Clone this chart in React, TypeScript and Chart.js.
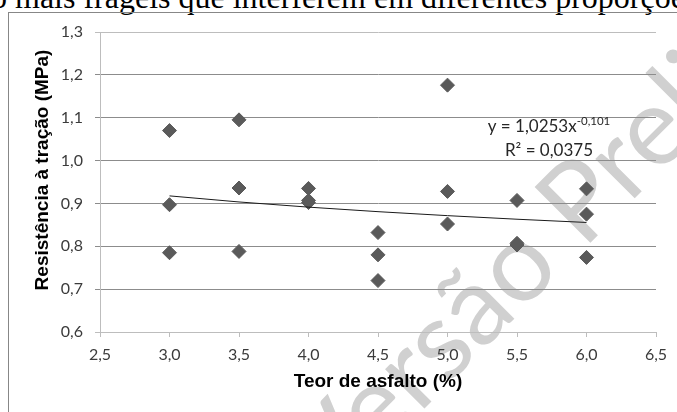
import React, { useEffect, useRef } from "react";
import { Chart, registerables } from "chart.js";

Chart.register(...registerables);

// ---- data ----
const asphaltContent = [3.0, 3.5, 4.0, 4.5, 5.0, 5.5, 6.0];
const strengthSample1 = [1.07, 1.095, 0.935, 0.832, 1.176, 0.907, 0.934];
const strengthSample2 = [0.897, 0.936, 0.907, 0.78, 0.928, 0.807, 0.875];
const strengthSample3 = [0.785, 0.788, 0.902, 0.72, 0.852, 0.803, 0.774];

// power trendline y = a * x^b (as printed on the chart)
const trendA = 1.0253;
const trendB = -0.101;
const trendR2 = 0.0375;

const xMin = 2.5;
const xMax = 6.5;
const xStep = 0.5;
const yMin = 0.6;
const yMax = 1.3;
const yStep = 0.1;

const xTitle = "Teor de asfalto (%)";
const yTitle = "Resistência à tração (MPa)";
const headerText = "o mais frágeis que interferem em diferentes proporções";
const watermarkText = "Versão Preliminar";

const fmt = (v: number, d: number) => v.toFixed(d).replace(".", ",");

export default function App() {
  const canvasRef = useRef<HTMLCanvasElement | null>(null);

  useEffect(() => {
    const canvas = canvasRef.current;
    if (!canvas) return;

    const points: { x: number; y: number }[] = [];
    asphaltContent.forEach((x, i) => {
      points.push({ x, y: strengthSample1[i] });
      points.push({ x, y: strengthSample2[i] });
      points.push({ x, y: strengthSample3[i] });
    });
    const trend = asphaltContent.map((x) => ({ x, y: trendA * Math.pow(x, trendB) }));

    const watermarkPlugin = {
      id: "watermark",
      beforeDraw(chart: any) {
        const ctx = chart.ctx;
        ctx.save();
        ctx.translate(331, 502);
        ctx.rotate(-Math.PI / 4);
        ctx.font = "110px Lato";
        ctx.fillStyle = "#d0d0d0";
        ctx.textBaseline = "alphabetic";
        ctx.textAlign = "left";
        ctx.fillText(watermarkText, 0, 0);
        ctx.restore();
      },
    };

    const labelsPlugin = {
      id: "labels",
      afterDatasetsDraw(chart: any) {
        const ctx = chart.ctx;
        ctx.save();
        // equation
        const main = `y = ${fmt(trendA, 4)}x`;
        const sup = fmt(trendB, 3);
        ctx.fillStyle = "#262626";
        ctx.textBaseline = "alphabetic";
        ctx.font = "17px Lato";
        const wMain = ctx.measureText(main).width;
        ctx.font = "11.5px Lato";
        const wSup = ctx.measureText(sup).width;
        const cx = 549;
        const x0 = cx - (wMain + wSup) / 2;
        ctx.font = "17px Lato";
        ctx.textAlign = "left";
        ctx.fillText(main, x0, 132);
        ctx.font = "11.5px Lato";
        ctx.fillText(sup, x0 + wMain, 125);
        ctx.font = "17px Lato";
        ctx.textAlign = "center";
        ctx.fillText(`R² = ${fmt(trendR2, 4)}`, cx, 156);
        // y axis title
        ctx.translate(42.5, 170);
        ctx.rotate(-Math.PI / 2);
        ctx.font = "bold 19px 'Liberation Sans'";
        ctx.fillStyle = "#000000";
        ctx.textAlign = "center";
        ctx.textBaseline = "middle";
        ctx.fillText(yTitle, 0, 0);
        ctx.restore();
      },
    };

    const chart = new Chart(canvas, {
      type: "scatter",
      data: {
        datasets: [
          {
            type: "line",
            data: trend,
            borderColor: "#1a1a1a",
            borderWidth: 1,
            pointRadius: 0,
            fill: false,
            tension: 0,
          } as any,
          {
            data: points,
            pointStyle: "rectRot",
            pointRadius: 7,
            backgroundColor: "#5a5a5a",
            borderColor: "#5a5a5a",
            borderWidth: 1,
          },
        ],
      },
      options: {
        animation: false,
        responsive: false,
        devicePixelRatio: 1,
        layout: { padding: { top: 32, right: 21, bottom: 0, left: 0 } },
        plugins: {
          legend: { display: false },
          tooltip: { enabled: false },
        },
        scales: {
          x: {
            type: "linear",
            min: xMin,
            max: xMax,
            afterBuildTicks(scale: any) {
              const t = [];
              for (let v = xMin; v <= xMax + 1e-9; v += xStep) t.push({ value: Math.round(v * 10) / 10 });
              scale.ticks = t;
            },
            afterFit(scale: any) {
              scale.height = 80;
              scale.paddingLeft = 0;
              scale.paddingRight = 0;
            },
            grid: {
              drawOnChartArea: false,
              drawTicks: true,
              tickLength: 5,
              color: "#bdbdbd",
            },
            border: { display: true, color: "#bdbdbd" },
            ticks: {
              padding: 8,
              color: "#3b3b3b",
              font: { family: "Lato", size: 16 },
              callback: (v: any) => fmt(Number(v), 1),
              maxRotation: 0,
            },
            title: {
              display: true,
              text: xTitle,
              color: "#000000",
              font: { family: "'Liberation Sans'", size: 19, weight: "bold" },
              padding: { top: 0, bottom: 19 },
            },
          },
          y: {
            type: "linear",
            min: yMin,
            max: yMax,
            afterBuildTicks(scale: any) {
              const t = [];
              for (let v = yMin; v <= yMax + 1e-9; v += yStep) t.push({ value: Math.round(v * 10) / 10 });
              scale.ticks = t;
            },
            afterFit(scale: any) {
              scale.width = 100;
              scale.paddingTop = 0;
              scale.paddingBottom = 0;
            },
            grid: {
              drawOnChartArea: true,
              drawTicks: true,
              tickLength: 5,
              color: (c: any) =>
                c.tick && (Math.abs(c.tick.value - yMax) < 1e-6 || Math.abs(c.tick.value - yMin) < 1e-6)
                  ? "#bdbdbd"
                  : "#8c8c8c",
            },
            border: { display: true, color: "#bdbdbd" },
            ticks: {
              padding: 12,
              color: "#3b3b3b",
              font: { family: "Lato", size: 16 },
              callback: (v: any) => fmt(Number(v), 1),
            },
            title: { display: false },
          },
        },
      },
      plugins: [watermarkPlugin, labelsPlugin],
    });

    return () => chart.destroy();
  }, []);

  return (
    <div
      style={{
        position: "fixed",
        left: 0,
        top: 0,
        width: 677,
        height: 412,
        overflow: "hidden",
        background: "#ffffff",
      }}
    >
      <div
        style={{
          position: "absolute",
          left: -9,
          top: -19,
          whiteSpace: "nowrap",
          fontFamily: "'Liberation Serif'",
          fontSize: 32,
          lineHeight: "32px",
          color: "#000",
        }}
      >
        {headerText}
      </div>
      <div
        style={{
          position: "absolute",
          left: 8,
          top: 12,
          width: 720,
          height: 460,
          borderLeft: "1px solid #878787",
          borderTop: "1px solid #878787",
        }}
      />
      <canvas
        ref={canvasRef}
        width={677}
        height={412}
        style={{ position: "absolute", left: 0, top: 0, width: 677, height: 412 }}
      />
    </div>
  );
}
